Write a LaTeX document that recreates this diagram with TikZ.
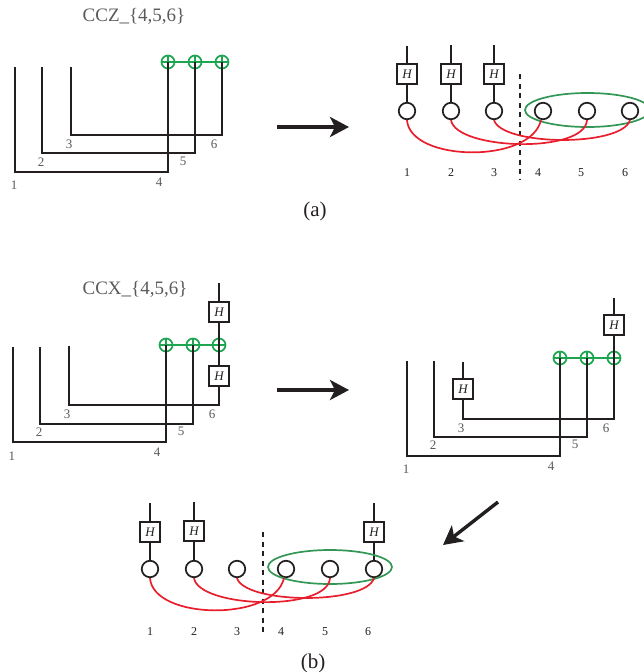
\documentclass[tikz,border=0pt]{standalone}
\usepackage{fontspec}
\setmainfont{Liberation Serif}
\usetikzlibrary{arrows.meta,shapes.geometric}
\definecolor{gline}{RGB}{30,165,80}
\definecolor{gringc}{RGB}{50,150,85}
\definecolor{rline}{RGB}{232,30,45}
\definecolor{ink}{RGB}{35,31,32}
\definecolor{lab}{RGB}{90,90,90}
\tikzset{
 x=1pt,y=-1pt,
 wire/.style={draw=ink,line width=1.9pt,line join=miter},
 hbox/.style={draw=ink,line width=1.8pt,fill=white,minimum size=20pt,inner sep=0pt,font=\itshape\fontsize{13}{13}\selectfont,text=ink},
 qubit/.style={circle,draw=ink,line width=1.7pt,fill=white,minimum size=16.5pt,inner sep=0pt},
 oplus/.style={circle,draw=gline,line width=1.7pt,minimum size=13pt,inner sep=0pt,
   path picture={\draw[gline,line width=1.7pt] (path picture bounding box.north)--(path picture bounding box.south) (path picture bounding box.west)--(path picture bounding box.east);}},
 gbar/.style={draw=gline,line width=1.9pt},
 redc/.style={draw=rline,line width=1.7pt},
 gringst/.style={draw=gringc,line width=1.7pt,ellipse,inner sep=0pt},
 cutline/.style={draw=ink,line width=1.7pt,dash pattern=on 5pt off 4.5pt},
 bigarrow/.style={draw=ink,line width=3.4pt,-{Stealth[length=19pt,width=20pt,inset=5pt]}},
 glab/.style={text=lab,font=\fontsize{13}{13}\selectfont,inner sep=0pt},
 blab/.style={text=ink,font=\fontsize{12}{12}\selectfont,inner sep=0pt},
 toptitle/.style={text=lab,font=\fontsize{19}{19}\selectfont,inner sep=0pt},
 figcap/.style={text=ink,font=\fontsize{21}{21}\selectfont,inner sep=0pt},
}
\begin{document}
\begin{tikzpicture}
\useasboundingbox (0,0) rectangle (643,672);
% ---- (a) left
\node[toptitle] (t1) at (134,16) {CCZ\_\{4,5,6\}};
\node[oplus] (a4) at (168,62) {};
\node[oplus] (a5) at (195,62) {};
\node[oplus] (a6) at (222,62) {};
\draw[gbar] (a4)--(a5) (a5)--(a6);
\coordinate (a1t) at (15,67); \coordinate (a1b) at (15,172);
\coordinate (a2t) at (42,67); \coordinate (a2b) at (42,153);
\coordinate (a3t) at (71,67); \coordinate (a3b) at (71,135);
\draw[wire] (a1t)--(a1b)-|(a4.center);
\draw[wire] (a2t)--(a2b)-|(a5.center);
\draw[wire] (a3t)--(a3b)-|(a6.center);
\node[glab] (al1) at (14,185) {1};
\node[glab] (al2) at (41,162) {2};
\node[glab] (al3) at (69,144) {3};
\node[glab] (al4) at (159,182) {4};
\node[glab] (al5) at (183,161) {5};
\node[glab] (al6) at (214,144) {6};
\coordinate (ar1s) at (277,127); \coordinate (ar1e) at (349,127);
\draw[bigarrow] (ar1s)--(ar1e);
% ---- (a) right
\coordinate (c1t) at (407,46); \coordinate (c2t) at (451,45); \coordinate (c3t) at (494,45);
\node[qubit] (c1) at (407,111) {};
\node[qubit] (c2) at (451,111) {};
\node[qubit] (c3) at (494,111) {};
\node[qubit] (c4) at (543,111) {};
\node[qubit] (c5) at (587,111) {};
\node[qubit] (c6) at (630,111) {};
\draw[wire] (c1t)--(c1) (c2t)--(c2) (c3t)--(c3);
\node[hbox] (h1) at (407,74) {H};
\node[hbox] (h2) at (451,74) {H};
\node[hbox] (h3) at (494,74) {H};
\node[gringst,minimum width=125pt,minimum height=34pt] (ringa) at (587.5,110) {};
\coordinate (cuta) at (520,74); \coordinate (cutb) at (520,180);
\draw[cutline] (cuta)--(cutb);
\draw[redc] (c1.south) .. controls +(3,42) and +(-10,44) .. ([xshift=-2pt]c4.south);
\draw[redc] (c2.south) .. controls +(5,30) and +(-2,34) .. (c5.south);
\draw[redc] (c3.south) .. controls +(8,26) and +(-8,27) .. (c6.south);
\foreach \n/\x in {1/407,2/451,3/494,4/538,5/581,6/625}{\node[blab] (cl\n) at (\x,173) {\n};}
\node[figcap] (capa) at (315,211) {(a)};
% ---- (b) left
\node[toptitle] (t2) at (135,289) {CCX\_\{4,5,6\}};
\node[oplus] (b4) at (166,345) {};
\node[oplus] (b5) at (193,345) {};
\node[oplus] (b6) at (219,345) {};
\draw[gbar] (b4)--(b5) (b5)--(b6);
\coordinate (b1t) at (13,347); \coordinate (b1b) at (13,442);
\coordinate (b2t) at (40,347); \coordinate (b2b) at (40,424);
\coordinate (b3t) at (69,346); \coordinate (b3b) at (69,405);
\coordinate (b6t) at (219,283);
\draw[wire] (b1t)--(b1b)-|(b4.center);
\draw[wire] (b2t)--(b2b)-|(b5.center);
\draw[wire] (b3t)--(b3b)-|(b6t);
\node[hbox] (h4) at (219,312) {H};
\node[hbox] (h5) at (219,376) {H};
\node[glab] (bl1) at (12,456) {1};
\node[glab] (bl2) at (39,432) {2};
\node[glab] (bl3) at (67,414) {3};
\node[glab] (bl4) at (157,452) {4};
\node[glab] (bl5) at (181,431) {5};
\node[glab] (bl6) at (212,414) {6};
\coordinate (ar2s) at (277,390); \coordinate (ar2e) at (349,390);
\draw[bigarrow] (ar2s)--(ar2e);
% ---- (b) right
\node[oplus] (d4) at (560,358) {};
\node[oplus] (d5) at (587,358) {};
\node[oplus] (d6) at (614,358) {};
\draw[gbar] (d4)--(d5) (d5)--(d6);
\coordinate (d1t) at (407,361); \coordinate (d1b) at (407,456);
\coordinate (d2t) at (434,361); \coordinate (d2b) at (434,437);
\coordinate (d3t) at (463,362); \coordinate (d3b) at (463,419);
\coordinate (d6t) at (614,298);
\draw[wire] (d1t)--(d1b)-|(d4.center);
\draw[wire] (d2t)--(d2b)-|(d5.center);
\draw[wire] (d3t)--(d3b)-|(d6t);
\node[hbox] (h6) at (614,325) {H};
\node[hbox] (h7) at (463,389) {H};
\node[glab] (dl1) at (406,469) {1};
\node[glab] (dl2) at (433,445) {2};
\node[glab] (dl3) at (461,428) {3};
\node[glab] (dl4) at (551,466) {4};
\node[glab] (dl5) at (575,444) {5};
\node[glab] (dl6) at (606,428) {6};
\coordinate (ar3s) at (498,502); \coordinate (ar3e) at (443,545);
\draw[bigarrow] (ar3s)--(ar3e);
% ---- (b) bottom
\coordinate (e1t) at (150,503); \coordinate (e2t) at (194,502); \coordinate (e6t) at (374,503);
\node[qubit] (e1) at (150,569) {};
\node[qubit] (e2) at (194,569) {};
\node[qubit] (e3) at (237,569) {};
\node[qubit] (e4) at (286,569) {};
\node[qubit] (e5) at (330,569) {};
\node[qubit] (e6) at (374,569) {};
\draw[wire] (e1t)--(e1) (e2t)--(e2) (e6t)--(e6);
\node[hbox] (h8) at (150,532) {H};
\node[hbox] (h9) at (194,531) {H};
\node[hbox] (h10) at (374,532) {H};
\node[gringst,minimum width=124pt,minimum height=34pt] (ringb) at (330,567) {};
\coordinate (cutc) at (263,532); \coordinate (cutd) at (263,636);
\draw[cutline] (cutc)--(cutd);
\draw[redc] (e1.south) .. controls +(3,42) and +(-10,44) .. ([xshift=-2pt]e4.south);
\draw[redc] (e2.south) .. controls +(5,30) and +(-2,34) .. (e5.south);
\draw[redc] (e3.south) .. controls +(8,26) and +(-8,27) .. (e6.south);
\foreach \n/\x in {1/150,2/194,3/237,4/281,5/325,6/368}{\node[blab] (el\n) at (\x,632) {\n};}
\node[figcap] (capb) at (313,663) {(b)};
\end{tikzpicture}
\end{document}
